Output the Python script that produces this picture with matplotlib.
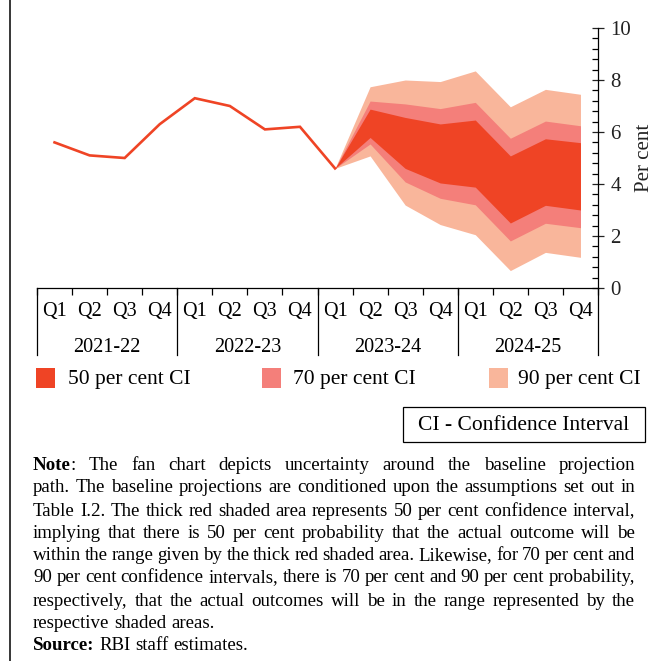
import matplotlib.pyplot as plt
import matplotlib.transforms as mtransforms
from matplotlib.lines import Line2D
from matplotlib.patches import Rectangle
from matplotlib.ticker import MultipleLocator, FixedLocator
import numpy as np

plt.rcParams['font.family'] = ['Liberation Serif', 'DejaVu Serif']

# CPI inflation, actual outturns (y-o-y, per cent)
years = ['2021-22', '2022-23', '2023-24', '2024-25']
quarters = ['Q1', 'Q2', 'Q3', 'Q4']
actual = [5.6, 5.1, 5.0, 6.3, 7.3, 7.0, 6.1, 6.2, 4.6]

# projection bands from 2023-24 Q1 onwards
upper_90 = [4.6, 7.74, 8.0, 7.94, 8.35, 6.97, 7.64, 7.45]
upper_70 = [4.6, 7.19, 7.08, 6.9, 7.14, 5.76, 6.42, 6.24]
upper_50 = [4.6, 6.88, 6.56, 6.31, 6.46, 5.08, 5.74, 5.59]
lower_50 = [4.6, 5.79, 4.6, 4.04, 3.88, 2.5, 3.18, 3.0]
lower_70 = [4.6, 5.54, 4.08, 3.45, 3.2, 1.81, 2.49, 2.32]
lower_90 = [4.6, 5.08, 3.19, 2.44, 2.05, 0.67, 1.37, 1.18]

c50 = '#EF4425'
c70 = '#F47F7A'
c90 = '#F9B69B'

W, H = 654, 661
fig = plt.figure(figsize=(W / 100, H / 100), dpi=100)
ax = fig.add_axes([37 / W, 1 - 288 / H, 561 / W, 260 / H])

n_q = len(years) * len(quarters)
xa = np.arange(len(actual))
xf = np.arange(len(actual) - 1, len(actual) - 1 + len(upper_90))

ax.fill_between(xf, lower_90, upper_90, color=c90, lw=0)
ax.fill_between(xf, lower_70, upper_70, color=c70, lw=0)
ax.fill_between(xf, lower_50, upper_50, color=c50, lw=0)
ax.plot(xa, actual, color=c50, lw=1.9, solid_joinstyle='miter')

ax.set_xlim(-0.5, n_q - 0.5)
ax.set_ylim(0, 10)

for s in ['top', 'left']:
    ax.spines[s].set_visible(False)
ax.spines['bottom'].set_linewidth(0.9)
ax.spines['right'].set_linewidth(0.9)

# y axis on the right
ax.yaxis.tick_right()
ax.yaxis.set_label_position('right')
ax.set_yticks(np.arange(0, 11, 2))
ax.yaxis.set_minor_locator(MultipleLocator(0.4))
ax.tick_params(axis='y', which='major', direction='inout', length=8, width=0.9,
               pad=5, labelsize=15, colors='#222222')
ax.tick_params(axis='y', which='minor', direction='in', length=4.5, width=0.9)
ax.set_ylabel('Per cent', fontsize=15, labelpad=3, color='#222222')

# x axis: boundary ticks plus quarter labels
ax.xaxis.set_major_locator(FixedLocator(np.arange(-0.5, n_q, 1)))
ax.xaxis.set_major_formatter(plt.NullFormatter())
ax.xaxis.set_minor_locator(FixedLocator(np.arange(n_q)))
ax.set_xticklabels(quarters * len(years), minor=True)
ax.tick_params(axis='x', which='major', direction='out', length=5, width=0.9)
ax.tick_params(axis='x', which='minor', length=0, pad=10, labelsize=14.5)

trans = mtransforms.blended_transform_factory(ax.transData, ax.transAxes)
for i, yr in enumerate(years):
    ax.text(i * 4 + 1.5, -59 / 260, yr, transform=trans, ha='center',
            va='center', fontsize=14.5)
for k in range(len(years) + 1):
    ax.add_line(Line2D([k * 4 - 0.5, k * 4 - 0.5], [0, -67 / 260],
                       transform=trans, color='black', lw=0.9, clip_on=False))

# legend
legend_items = [('50 per cent CI', c50, 36, 68), ('70 per cent CI', c70, 262, 293),
                ('90 per cent CI', c90, 489, 518)]
for label, col, sx, tx in legend_items:
    fig.patches.append(Rectangle((sx / W, 1 - 388 / H), 19 / W, 20 / H,
                                 transform=fig.transFigure, color=col, lw=0))
    fig.text(tx / W, 1 - 379 / H, label, fontsize=15.5, va='center')

# CI box
fig.patches.append(Rectangle((403 / W, 1 - 442 / H), 242 / W, 35 / H,
                             transform=fig.transFigure, fill=False,
                             ec='black', lw=0.9))
fig.text(524 / W, 1 - 425 / H, 'CI - Confidence Interval', fontsize=15.5,
         ha='center', va='center')

# frame line on the left
fig.add_artist(Line2D([10 / W, 10 / W], [0, 1], transform=fig.transFigure,
                      color='black', lw=1.1))

# note, set as a justified paragraph
note_lines = [
    [[('Note', True), (':', False)], 'The fan chart depicts uncertainty around the baseline projection'],
    'path. The baseline projections are conditioned upon the assumptions set out in',
    'Table I.2.  The thick red shaded area represents 50 per cent confidence interval,',
    'implying that there is 50 per cent probability that the actual outcome will be',
    'within the range given by the thick red shaded area. Likewise, for 70 per cent and',
    '90 per cent confidence intervals, there is 70 per cent and 90 per cent probability,',
    'respectively,  that the actual outcomes will be in the range represented by the',
]
last_lines = [
    'respective shaded areas.',
    [[('Source:', True)], 'RBI staff estimates.'],
]
line_y = [466, 488, 511, 533, 556, 578, 601, 623, 645]
x0, x1 = 33, 635
note_size = 13.6
renderer = fig.canvas.get_renderer()


def tokens_of(line):
    toks = []
    if isinstance(line, list):
        toks.append(line[0])
        line = line[1]
    toks += [[(w, False)] for w in line.split()]
    return toks


def place_line(line, y, justify):
    toks = tokens_of(line)
    pieces = []
    widths = []
    for tok in toks:
        parts = []
        w = 0
        for s, bold in tok:
            t = fig.text(0, 1 - y / H, s, fontsize=note_size, va='center',
                         fontweight='bold' if bold else 'normal')
            pw = t.get_window_extent(renderer).width
            parts.append((t, w))
            w += pw
        pieces.append(parts)
        widths.append(w)
    if justify:
        gap = (x1 - x0 - sum(widths)) / (len(toks) - 1)
    else:
        gap = note_size * 100 / 72 * 0.25
    x = x0
    for parts, w in zip(pieces, widths):
        for t, off in parts:
            t.set_x((x + off) / W)
        x += w + gap


for line, y in zip(note_lines, line_y):
    place_line(line, y, True)
for line, y in zip(last_lines, line_y[len(note_lines):]):
    place_line(line, y, False)

fig.savefig('out.png', dpi=100)
